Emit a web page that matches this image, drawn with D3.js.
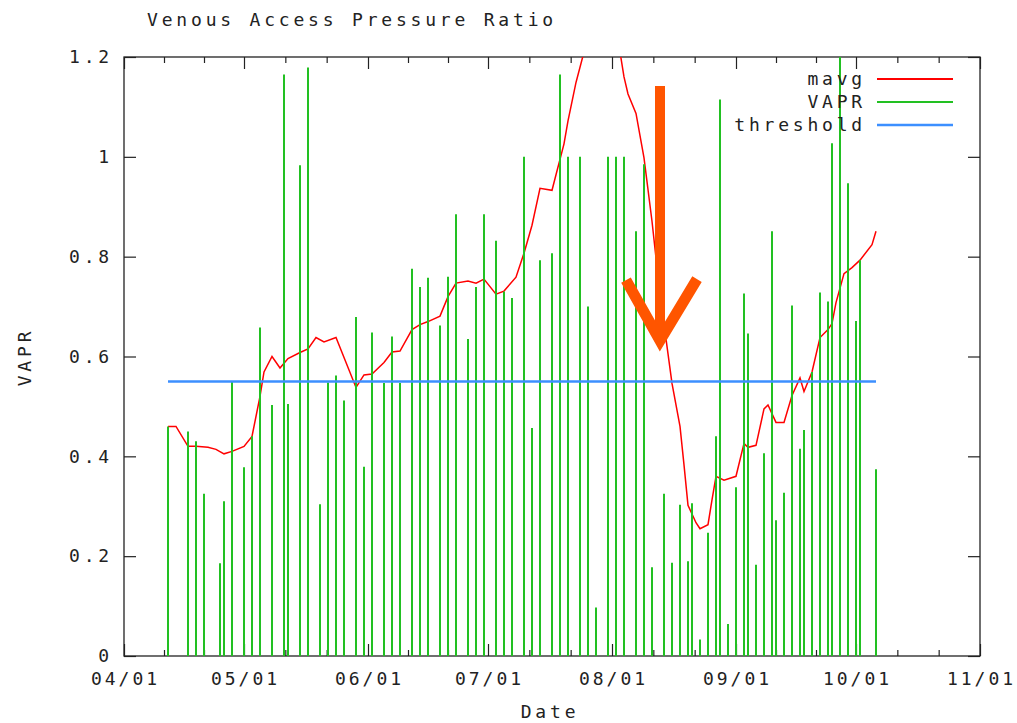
<!DOCTYPE html>
<html lang="en">
  <head>
    <title>Venous Access Pressure Ratio</title>
    <meta charset="UTF-8">
    <script src="https://d3js.org/d3.v7.min.js"></script>
    <style>
      * {
        margin: 0;
        padding: 0;
      }
      body {
        background: white;
      }
      svg {
        display: block;
      }
      text {
        font-family: 'DejaVu Sans Mono', 'Liberation Mono', monospace;
        font-size: 18px;
        letter-spacing: 3.8px;
        fill: #222;
      }
      .xlab text {
        letter-spacing: 3px;
      }
    </style>
  </head>
  <body>
    <script>
      const year = 2009

      // VAPR readings (one per session)
      const vaprDates = ["04/12","04/17","04/19","04/21","04/25","04/26","04/28",
        "05/01","05/03","05/05","05/08","05/11","05/12","05/15","05/17","05/20","05/22","05/24","05/26","05/29","05/31",
        "06/02","06/05","06/07","06/09","06/12","06/14","06/16","06/19","06/21","06/23","06/26","06/28","06/30",
        "07/03","07/05","07/07","07/10","07/12","07/14","07/17","07/19","07/21","07/24","07/26","07/28","07/31",
        "08/02","08/04","08/07","08/09","08/11","08/14","08/16","08/18","08/20","08/21","08/23","08/25","08/27","08/28","08/30",
        "09/01","09/03","09/04","09/06","09/08","09/10","09/11","09/13","09/15","09/17","09/18","09/20","09/22","09/24","09/25","09/27","09/29",
        "10/01","10/02","10/06"]
      const vaprValues = [0.46, 0.45, 0.43, 0.325, 0.186, 0.31, 0.55,
        0.378, 0.44, 0.658, 0.503, 1.165, 0.505, 0.983, 1.179, 0.304, 0.548, 0.562, 0.512, 0.679, 0.379,
        0.648, 0.547, 0.64, 0.547, 0.776, 0.739, 0.758, 0.662, 0.76, 0.885, 0.635, 0.739, 0.885,
        0.832, 0.73, 0.717, 1.0, 0.457, 0.793, 0.807, 1.165, 1.0, 1.0, 0.70, 0.097, 1.0,
        1.0, 1.0, 0.851, 0.985, 0.178, 0.325, 0.187, 0.303, 0.19, 0.306, 0.033, 0.247, 0.44, 1.115, 0.064,
        0.338, 0.726, 0.646, 0.183, 0.406, 0.851, 0.272, 0.327, 0.702, 0.415, 0.453, 0.569, 0.728, 0.71, 1.027, 1.25, 0.947,
        0.671, 0.793, 0.374]

      // moving average
      const mavgDates = ["04/12","04/14","04/17","04/19","04/22","04/24","04/26","04/28",
        "05/01","05/03","05/05","05/06","05/08","05/10","05/12","05/15","05/17","05/19","05/21","05/24","05/29","05/31",
        "06/02","06/05","06/07","06/09","06/12","06/14","06/16","06/19","06/21","06/23","06/26","06/28","06/30",
        "07/03","07/05","07/08","07/10","07/12","07/14","07/17","07/18","07/20","07/21","07/23","07/25","07/28","07/31",
        "08/02","08/04","08/05","08/07","08/09","08/11","08/13","08/16","08/18","08/19","08/20","08/22","08/23","08/25","08/26","08/27","08/29",
        "09/01","09/03","09/04","09/06","09/08","09/09","09/11","09/13","09/15","09/17","09/18","09/20","09/22","09/24","09/25","09/26","09/28","09/30",
        "10/02","10/05","10/06"]
      const mavgValues = [0.46, 0.46, 0.42, 0.42, 0.418, 0.414, 0.405, 0.41,
        0.42, 0.44, 0.52, 0.569, 0.60, 0.577, 0.596, 0.608, 0.615, 0.638, 0.629, 0.638, 0.538, 0.563,
        0.565, 0.588, 0.609, 0.611, 0.654, 0.664, 0.67, 0.681, 0.72, 0.747, 0.751, 0.747, 0.755,
        0.725, 0.731, 0.759, 0.807, 0.863, 0.937, 0.933, 0.964, 1.026, 1.072, 1.149, 1.21, 1.28, 1.30,
        1.26, 1.16, 1.126, 1.087, 0.998, 0.871, 0.724, 0.546, 0.46, 0.383, 0.302, 0.267, 0.255, 0.263, 0.313, 0.36, 0.352,
        0.36, 0.426, 0.418, 0.422, 0.495, 0.503, 0.468, 0.468, 0.522, 0.557, 0.53, 0.569, 0.638, 0.654, 0.666, 0.708, 0.766, 0.778,
        0.793, 0.824, 0.851]

      const threshold = 0.55

      const yTicks = [0, 0.2, 0.4, 0.6, 0.8, 1, 1.2]
      const xStart = "04/01"
      const xEnd = "11/01"

      const series = ["mavg", "VAPR", "threshold"]
      const colors = ["#ff0000", "#22c022", "#3c8fff"]

      // hand-drawn arrow annotation, in chart units
      const arrowShaft = [["08/13 00", 1.142], ["08/13 00", 0.64]]
      const arrowHead = [["08/04 12", 0.753], ["08/13 00", 0.632], ["08/22 06", 0.755]]

      const width = 1017
      const height = 723
      const plotL = 124, plotR = 980, plotT = 57, plotB = 656

      const parse = d3.timeParse("%Y/%m/%d")
      const parseH = d3.timeParse("%Y/%m/%d %H")
      const day = (s) => parse(year + "/" + s)
      const dayH = (s) => parseH(year + "/" + s)

      const vapr = vaprDates.map((d, i) => ({ date: day(d), value: vaprValues[i] }))
      const mavg = mavgDates.map((d, i) => ({ date: day(d), value: mavgValues[i] }))

      const xScale = d3.scaleTime()
                       .domain([day(xStart), day(xEnd)])
                       .range([plotL, plotR])
      const yScale = d3.scaleLinear()
                       .domain([0, 1.2])
                       .range([plotB, plotT])

      const svg = d3.select("body")
                    .append("svg")
                    .attr("width", width)
                    .attr("height", height)

      svg.append("clipPath")
         .attr("id", "plot-clip")
         .append("rect")
         .attr("x", plotL)
         .attr("y", plotT)
         .attr("width", plotR - plotL)
         .attr("height", plotB - plotT)

      // axes
      const months = d3.timeMonth.range(day(xStart), d3.timeDay.offset(day(xEnd), 1))
      const minor = []
      for (let i = 0; i < months.length - 1; i++) {
        const a = months[i].getTime(), b = months[i + 1].getTime()
        minor.push(new Date(a + (b - a) / 3), new Date(a + 2 * (b - a) / 3))
      }
      const fmtY = (d) => String(+d.toFixed(1))

      const axisStyle = (g) => {
        g.select(".domain").remove()
        g.selectAll("line").attr("stroke", "#222").attr("stroke-width", 1.2)
        g.selectAll("text").attr("fill", "#222").attr("font-size", null).attr("font-family", null)
      }

      svg.append("g")
         .attr("class", "xlab")
         .attr("transform", "translate(0," + plotB + ")")
         .call(d3.axisBottom(xScale).tickValues(months).tickFormat(d3.timeFormat("%m/%d")).tickSize(-12).tickPadding(16))
         .call(axisStyle)
         .selectAll("text").attr("dx", "1px")
      svg.append("g")
         .attr("transform", "translate(0," + plotT + ")")
         .call(d3.axisTop(xScale).tickValues(months).tickFormat("").tickSize(-12))
         .call(axisStyle)
      svg.append("g")
         .attr("transform", "translate(0," + plotB + ")")
         .call(d3.axisBottom(xScale).tickValues(minor).tickFormat("").tickSize(-6))
         .call(axisStyle)
      svg.append("g")
         .attr("transform", "translate(0," + plotT + ")")
         .call(d3.axisTop(xScale).tickValues(minor).tickFormat("").tickSize(-6))
         .call(axisStyle)
      svg.append("g")
         .attr("transform", "translate(" + plotL + ",0)")
         .call(d3.axisLeft(yScale).tickValues(yTicks).tickFormat(fmtY).tickSize(-12).tickPadding(11))
         .call(axisStyle)
      svg.append("g")
         .attr("transform", "translate(" + plotR + ",0)")
         .call(d3.axisRight(yScale).tickValues(yTicks).tickFormat("").tickSize(-12))
         .call(axisStyle)

      svg.append("rect")
         .attr("x", plotL)
         .attr("y", plotT)
         .attr("width", plotR - plotL)
         .attr("height", plotB - plotT)
         .attr("fill", "none")
         .attr("stroke", "#222")
         .attr("stroke-width", 1.3)

      const plot = svg.append("g").attr("clip-path", "url(#plot-clip)")

      // mavg
      plot.append("path")
          .datum(mavg)
          .attr("fill", "none")
          .attr("stroke", colors[0])
          .attr("stroke-width", 1.5)
          .attr("d", d3.line().x((d) => xScale(d.date)).y((d) => yScale(d.value)))

      // VAPR impulses
      plot.selectAll(".impulse")
          .data(vapr)
          .enter()
          .append("line")
          .attr("class", "impulse")
          .attr("x1", (d) => xScale(d.date))
          .attr("x2", (d) => xScale(d.date))
          .attr("y1", yScale(0))
          .attr("y2", (d) => yScale(d.value))
          .attr("stroke", colors[1])
          .attr("stroke-width", 2)

      // threshold
      plot.append("line")
          .attr("x1", xScale(vapr[0].date))
          .attr("x2", xScale(vapr[vapr.length - 1].date))
          .attr("y1", yScale(threshold))
          .attr("y2", yScale(threshold))
          .attr("stroke", colors[2])
          .attr("stroke-width", 2.5)

      // legend
      const legend = svg.append("g")
      series.forEach((s, i) => {
        const y = 79 + i * 23
        legend.append("text")
              .attr("x", 866)
              .attr("y", y)
              .attr("dy", "0.35em")
              .attr("text-anchor", "end")
              .text(s)
        legend.append("line")
              .attr("x1", 877).attr("x2", 953)
              .attr("y1", y).attr("y2", y)
              .attr("stroke", colors[i])
              .attr("stroke-width", i == 2 ? 2.5 : 2)
      })

      // titles
      svg.append("text")
         .attr("x", 352)
         .attr("y", 20)
         .attr("dy", "0.35em")
         .attr("text-anchor", "middle")
         .text("Venous Access Pressure Ratio")
      svg.append("text")
         .attr("x", 550)
         .attr("y", 712)
         .attr("dy", "0.35em")
         .attr("text-anchor", "middle")
         .text("Date")
      svg.append("text")
         .attr("transform", "translate(25," + 357 + ") rotate(-90)")
         .attr("dy", "0.35em")
         .attr("text-anchor", "middle")
         .text("VAPR")

      // arrow annotation
      const ax = (p) => xScale(dayH(p[0]))
      const ay = (p) => yScale(p[1])
      svg.append("path")
         .attr("d", d3.line().x(ax).y(ay)(arrowShaft))
         .attr("stroke", "#ff5500")
         .attr("stroke-width", 10)
         .attr("fill", "none")
      svg.append("path")
         .attr("d", d3.line().x(ax).y(ay)(arrowHead))
         .attr("stroke", "#ff5500")
         .attr("stroke-width", 11)
         .attr("stroke-linejoin", "miter")
         .attr("stroke-miterlimit", 10)
         .attr("fill", "none")
    </script>
  </body>
</html>
